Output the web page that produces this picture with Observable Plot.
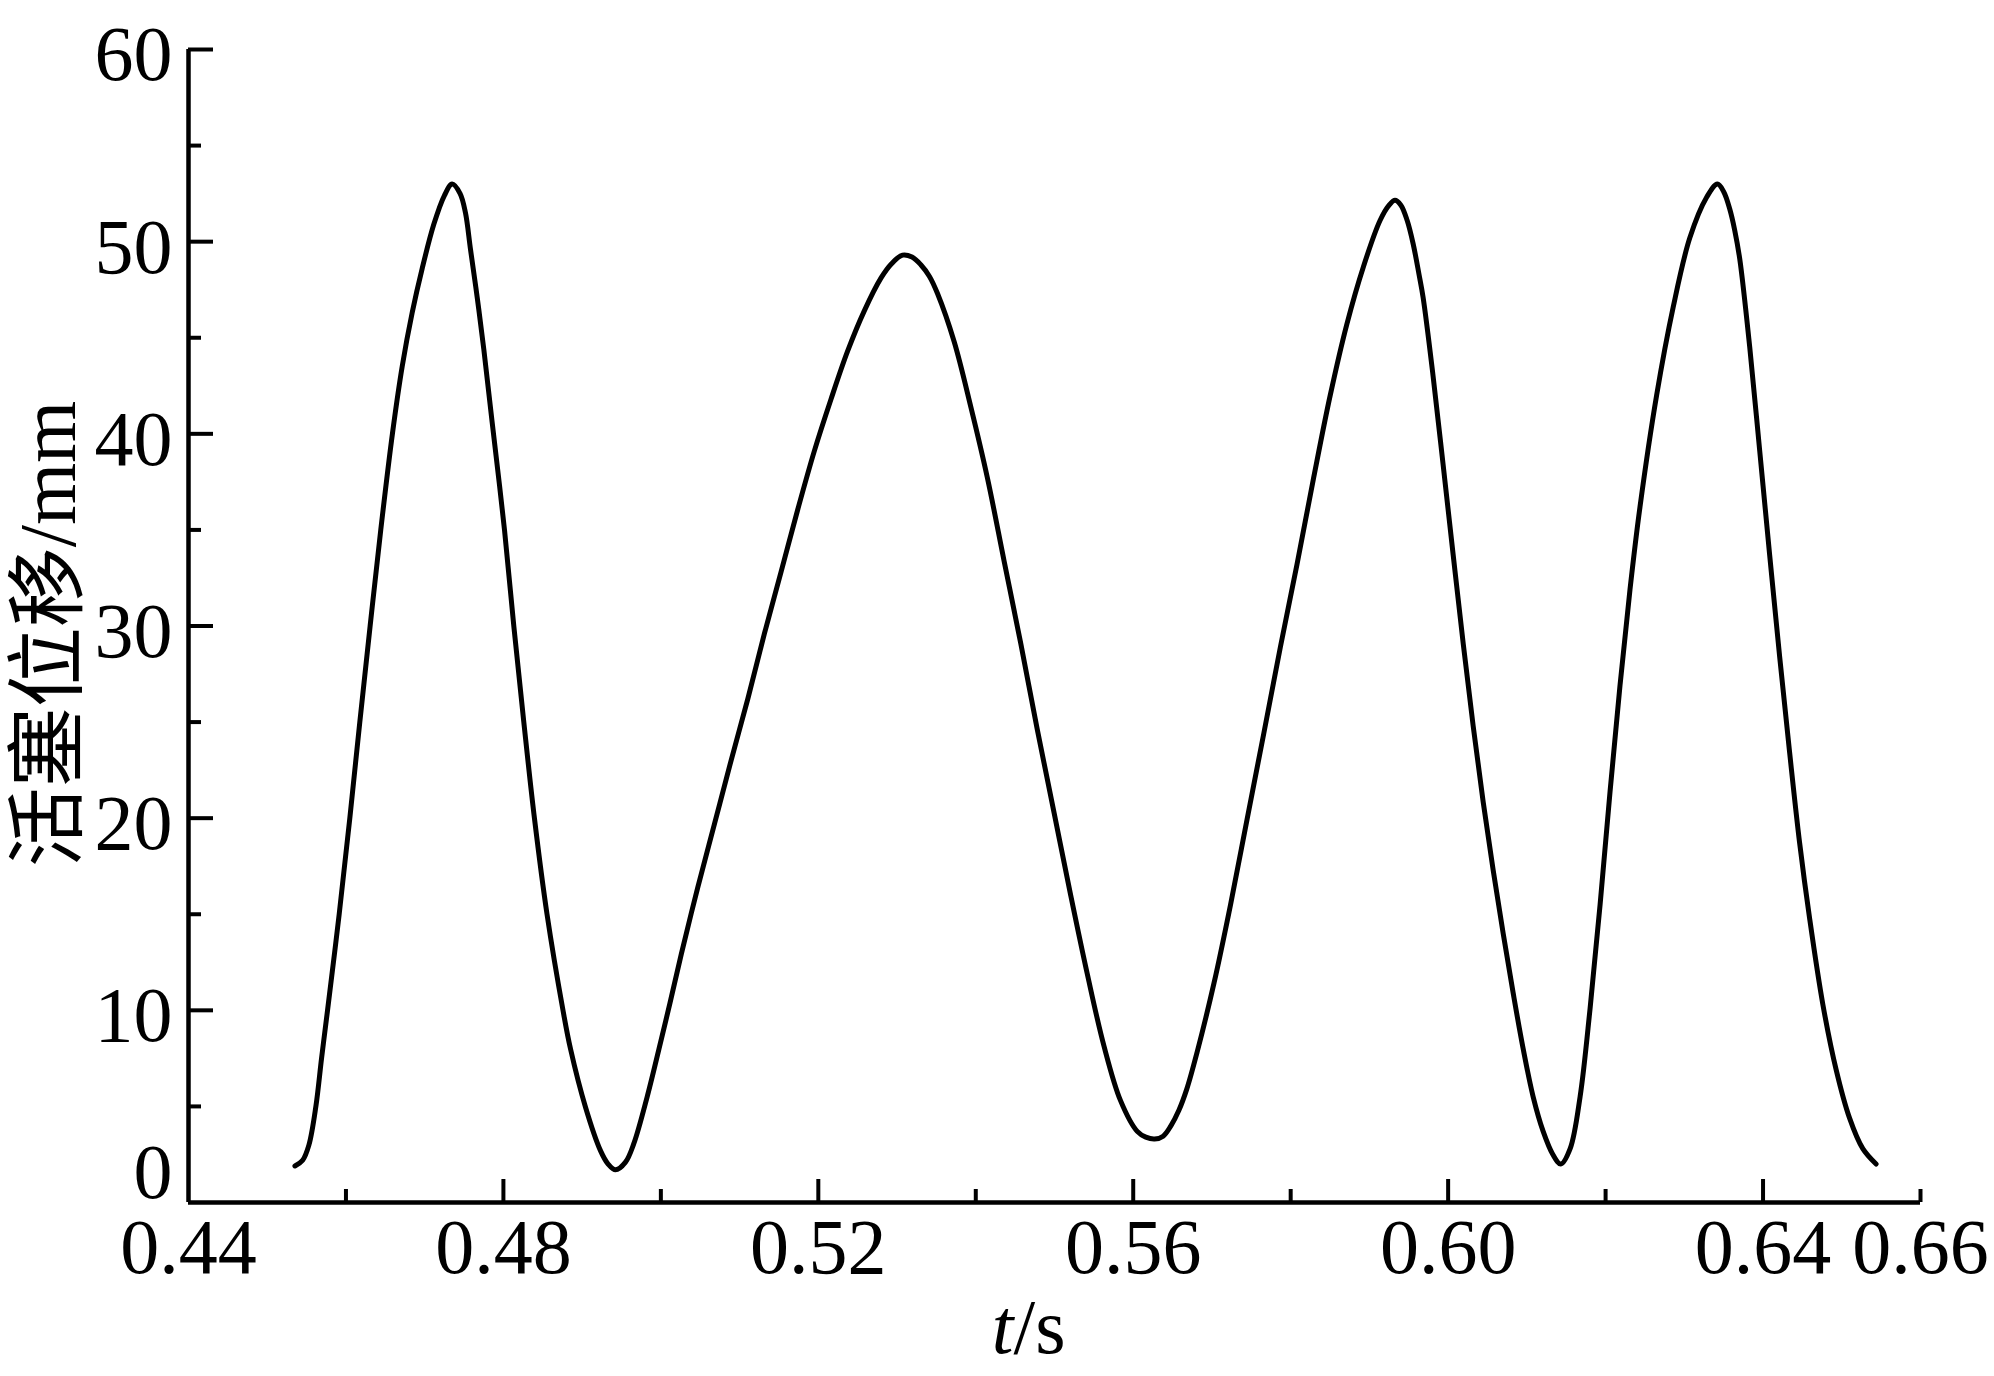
<!DOCTYPE html>
<html>
<head>
<meta charset="utf-8">
<script src="https://cdn.jsdelivr.net/npm/d3@7"></script>
<script src="https://cdn.jsdelivr.net/npm/@observablehq/plot@0.6"></script>
<style>
  html, body { margin: 0; padding: 0; background: #fff; }
</style>
</head>
<body>
<script>
// ---- data ----
const timeS = [
  0.45352, 0.45450, 0.45530, 0.45618, 0.45690, 0.45766, 0.45914, 0.46049, 0.46176, 0.46307,
  0.46442, 0.46590, 0.46714, 0.46841, 0.46968, 0.47116, 0.47250, 0.47349, 0.47450, 0.47518,
  0.47582, 0.47667, 0.47751, 0.47857, 0.48014, 0.48132, 0.48259, 0.48394, 0.48554, 0.48757,
  0.48852, 0.49043, 0.49233, 0.49330, 0.49424, 0.49551, 0.49656, 0.49826, 0.50000, 0.50117,
  0.50258, 0.50469, 0.50681, 0.50892, 0.51104, 0.51315, 0.51526, 0.51738, 0.51949, 0.52161,
  0.52372, 0.52584, 0.52795, 0.52930, 0.53070, 0.53190, 0.53302, 0.53410, 0.53514, 0.53725,
  0.53937, 0.54148, 0.54359, 0.54571, 0.54782, 0.54994, 0.55205, 0.55416, 0.55628, 0.55839,
  0.56051, 0.56160, 0.56271, 0.56380, 0.56480, 0.56580, 0.56680, 0.56810, 0.57025, 0.57236,
  0.57447, 0.57658, 0.57869, 0.58080, 0.58291, 0.58502, 0.58713, 0.58924, 0.59135, 0.59250,
  0.59325, 0.59400, 0.59480, 0.59555, 0.59630, 0.59682, 0.59809, 0.59936, 0.60064, 0.60191,
  0.60318, 0.60445, 0.60572, 0.60699, 0.60826, 0.60953, 0.61080, 0.61207, 0.61330, 0.61431,
  0.61550, 0.61676, 0.61803, 0.61930, 0.62057, 0.62183, 0.62310, 0.62437, 0.62648, 0.62859,
  0.63070, 0.63282, 0.63421, 0.63500, 0.63577, 0.63640, 0.63704, 0.63831, 0.63958, 0.64084,
  0.64211, 0.64338, 0.64465, 0.64591, 0.64760, 0.64929, 0.65098, 0.65267, 0.65436
];
const displacementMm = [
  1.9, 2.2, 3.0, 5.0, 7.5, 10.0, 15.0, 20.0, 25.0, 30.0,
  35.0, 40.0, 43.5, 46.3, 48.6, 50.9, 52.4, 53.0, 52.5, 51.5,
  49.6, 47.1, 44.4, 40.6, 35.0, 30.0, 25.0, 20.0, 15.0, 10.0,
  8.0, 4.96, 2.7, 2.0, 1.7, 2.1, 3.06, 5.5, 8.4, 10.4,
  12.9, 16.4, 19.7, 23.0, 26.2, 29.6, 32.8, 36.05, 39.1, 41.8,
  44.3, 46.4, 48.1, 48.85, 49.3, 49.2, 48.8, 48.2, 47.3, 44.8,
  41.4, 37.7, 33.4, 29.1, 24.6, 20.3, 16.0, 11.9, 8.15, 5.3,
  3.7, 3.4, 3.3, 3.45, 4.0, 4.8, 5.9, 7.8, 11.4, 15.5,
  19.96, 24.4, 28.9, 33.2, 37.7, 42.0, 45.7, 48.7, 51.1, 51.9,
  52.15, 51.9, 51.1, 49.9, 48.3, 47.1, 43.0, 38.4, 33.7, 29.1,
  24.8, 20.85, 17.3, 14.0, 10.9, 8.0, 5.5, 3.7, 2.5, 2.0,
  2.8, 5.5, 10.1, 15.5, 21.4, 26.9, 31.9, 36.2, 42.0, 46.6,
  50.2, 52.3, 53.0, 52.6, 51.7, 50.6, 49.1, 44.5, 39.1, 33.7,
  28.4, 23.4, 18.7, 14.8, 10.3, 6.9, 4.4, 2.8, 2.0
];

const xTickLabels = [0.44, 0.48, 0.52, 0.56, 0.60, 0.64, 0.66];
const xMajorTicks = [0.48, 0.52, 0.56, 0.60, 0.64];
const xMinorTicks = [0.46, 0.50, 0.54, 0.58, 0.62, 0.66];
const yTickLabels = [10, 20, 30, 40, 50, 60];
const yZeroLabel = [0];
const yMajorTicks = [10, 20, 30, 40, 50, 60];
const yMinorTicks = [5, 15, 25, 35, 45, 55];
const xDomain = [0.44, 0.66];
const yDomain = [0, 60];
const yTitle = "活塞位移/mm";
const xTitleItalic = "t";
const xTitleRest = "/s";

// ---- layout ----
const W = 1994, H = 1376;
const mL = 188, mR = 74, mT = 49, mB = 174;
const frameW = W - mL - mR, frameH = H - mT - mB;
const FONT = "'Liberation Serif', 'Times New Roman', 'Noto Sans CJK SC', serif";
const FS = 78;

const data = timeS.map((t, i) => ({t, v: displacementMm[i]}));

const chart = Plot.plot({
  width: W,
  height: H,
  marginLeft: mL,
  marginRight: mR,
  marginTop: mT,
  marginBottom: mB,
  style: {background: "#fff", color: "#000", fontFamily: FONT, overflow: "visible"},
  x: {domain: xDomain},
  y: {domain: yDomain},
  marks: [
    // inward ticks
    Plot.ruleX(xMajorTicks, {x: d => d, insetTop: frameH - 23, stroke: "#000", strokeWidth: 4}),
    Plot.ruleX(xMinorTicks, {x: d => d, insetTop: frameH - 13, stroke: "#000", strokeWidth: 4}),
    Plot.ruleY(yMajorTicks, {y: d => d, insetRight: frameW - 25, stroke: "#000", strokeWidth: 4}),
    Plot.ruleY(yMinorTicks, {y: d => d, insetRight: frameW - 13, stroke: "#000", strokeWidth: 4}),
    // axis lines
    Plot.ruleX([xDomain[0]], {stroke: "#000", strokeWidth: 4.5}),
    Plot.ruleY([yDomain[0]], {stroke: "#000", strokeWidth: 4.5}),
    // tick labels
    Plot.axisX({ticks: xTickLabels, tickSize: 0, tickPadding: 15, tickFormat: d3.format(".2f"),
      label: null, fontSize: FS, fontFamily: FONT, fill: "#000"}),
    Plot.axisY({ticks: yTickLabels, tickSize: 0, tickPadding: 16, tickFormat: d => String(d),
      label: null, fontSize: FS, fontFamily: FONT, fill: "#000", dy: 6}),
    Plot.axisY({ticks: yZeroLabel, tickSize: 0, tickPadding: 16, tickFormat: d => String(d),
      label: null, fontSize: FS, fontFamily: FONT, fill: "#000", dy: -29}),
    // curve
    Plot.line(data, {x: "t", y: "v", curve: "catmull-rom", stroke: "#000", strokeWidth: 5,
      strokeLinejoin: "round", strokeLinecap: "round"}),
    // axis titles
    Plot.text([yTitle], {text: d => d, frameAnchor: "left", rotate: -90, dx: -139, dy: 8,
      textAnchor: "middle", lineAnchor: "middle", fontSize: 80, fontFamily: FONT, fill: "#000"}),
    Plot.text([xTitleItalic], {text: d => d, frameAnchor: "bottom", dx: -41, dy: 150,
      textAnchor: "end", lineAnchor: "bottom", fontSize: FS, fontFamily: FONT, fontStyle: "italic", fill: "#000"}),
    Plot.text([xTitleRest], {text: d => d, frameAnchor: "bottom", dx: -41, dy: 150,
      textAnchor: "start", lineAnchor: "bottom", fontSize: FS, fontFamily: FONT, fill: "#000"})
  ]
});
document.body.appendChild(chart);
</script>
</body>
</html>
